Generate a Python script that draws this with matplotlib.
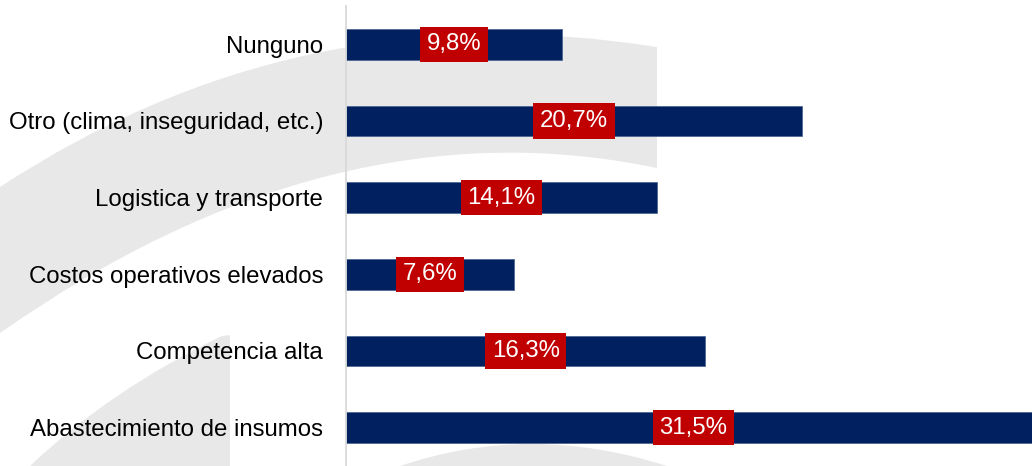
import numpy as np
import matplotlib
matplotlib.use("Agg")
import matplotlib.pyplot as plt
from matplotlib.path import Path
from matplotlib.patches import PathPatch

# data (top to bottom as shown)
categories = [
    "Nunguno",
    "Otro (clima, inseguridad, etc.)",
    "Logistica y transporte",
    "Costos operativos elevados",
    "Competencia alta",
    "Abastecimiento de insumos",
]
values = [9.8, 20.7, 14.1, 7.6, 16.3, 31.5]
labels = ["9,8%", "20,7%", "14,1%", "7,6%", "16,3%", "31,5%"]

W, H = 1032, 466
plt.rcParams["font.family"] = ["Liberation Sans", "DejaVu Sans"]

fig = plt.figure(figsize=(W / 100, H / 100), dpi=100)
fig.patch.set_facecolor("white")


# light grey watermark shapes, drawn in pixel coords (origin top-left)
def px(pts):
    return [(x / W, 1 - y / H) for x, y in pts]


C3, MV, LT, CL = Path.CURVE3, Path.MOVETO, Path.LINETO, Path.CLOSEPOLY
wm = "#e8e8e8"
shapes = [
    (px([(0, 187), (300, -10), (657, 47), (657, 168), (332, 100), (0, 333), (0, 187)]),
     [MV, C3, C3, LT, C3, C3, CL]),
    (px([(230, 335), (230, 466), (30, 466), (110, 390), (222, 336), (230, 335)]),
     [MV, LT, LT, C3, C3, CL]),
    (px([(400, 466), (530, 422), (667, 466), (400, 466)]),
     [MV, C3, C3, CL]),
]
for verts, codes in shapes:
    fig.patches.append(PathPatch(Path(verts, codes), facecolor=wm, edgecolor="none",
                                 transform=fig.transFigure, zorder=-5))

ax = fig.add_axes([346 / W, 0, (W - 346) / W, 460 / H])
ax.set_facecolor("none")
ax.set_zorder(1)

y = np.arange(len(categories))
ax.barh(y, values, height=0.4, color="#002060", edgecolor="#44618f", linewidth=0.5, zorder=2)

for yi, v, lab in zip(y, values, labels):
    ax.text(v / 2, yi, lab, ha="center", va="center", color="white", fontsize=17.3,
            bbox=dict(boxstyle="square,pad=0.28", facecolor="#c00000", edgecolor="none"),
            zorder=3)

ax.set_xlim(0, (W - 346) / 22.05)
ax.set_ylim(len(categories) - 0.5, -0.5)
ax.set_yticks(y)
ax.set_yticklabels(categories, fontsize=17.3, color="black")
ax.tick_params(axis="y", length=0, pad=16.5)
ax.set_xticks([])
for s in ["top", "right", "bottom"]:
    ax.spines[s].set_visible(False)
ax.spines["left"].set_color("#d9d9d9")
ax.spines["left"].set_linewidth(1.3)

fig.savefig("out.png", dpi=100)
